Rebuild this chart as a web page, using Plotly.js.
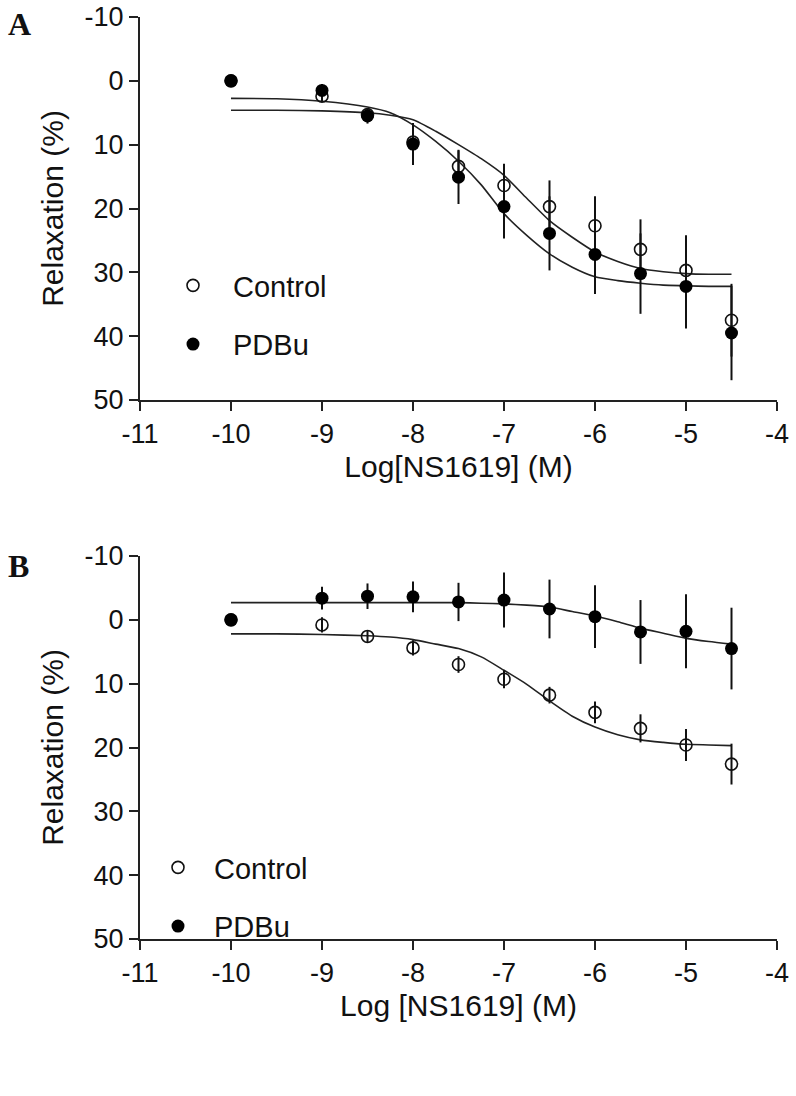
<!DOCTYPE html>
<html>
<head>
<meta charset="utf-8">
<script src="https://cdn.plot.ly/plotly-3.0.1.min.js"></script>
<style>
  body { margin: 0; background: #fff; }
  #chart { width: 796px; height: 1096px; }
</style>
</head>
<body>
<div id="chart"></div>
<script>
// doses (log M) where the points were measured
const doses = [-10, -9, -8.5, -8, -7.5, -7, -6.5, -6, -5.5, -5, -4.5];

// panel A
const controlA = [0, 2.4, 5.3, 9.6, 13.4, 16.4, 19.7, 22.7, 26.4, 29.7, 37.5];
const controlAErr = [0, 0.8, 1.0, 2.5, 2.6, 3.4, 4.1, 4.6, 4.7, 5.5, 5.7];
const pdbuA = [0, 1.5, 5.5, 9.9, 15.1, 19.7, 23.9, 27.2, 30.2, 32.2, 39.5];
const pdbuAErr = [0, 1.0, 1.2, 3.3, 4.2, 5.0, 5.8, 6.2, 6.3, 6.6, 7.4];

// panel B
const controlB = [0, 0.8, 2.6, 4.4, 7.0, 9.3, 11.8, 14.5, 17.0, 19.6, 22.6];
const controlBErr = [0, 1.2, 1.0, 1.2, 1.3, 1.4, 1.3, 1.7, 2.2, 2.5, 3.2];
const pdbuB = [0, -3.4, -3.7, -3.6, -2.8, -3.1, -1.7, -0.5, 1.9, 1.8, 4.5];
const pdbuBErr = [0, 1.8, 2.0, 2.4, 3.0, 4.3, 4.6, 4.9, 5.0, 5.8, 6.4];

// fitted curves
const fitX = [-10, -9.5, -9, -8.5, -8.25, -8, -7.75, -7.5, -7.25, -7, -6.75, -6.5, -6.25, -6, -5.75, -5.5, -5.25, -5, -4.75, -4.5];
const controlFitA = [4.6, 4.6, 4.7, 5.0, 5.4, 6.1, 7.9, 10.0, 12.2, 14.8, 18.4, 21.9, 24.5, 26.8, 28.3, 29.4, 29.9, 30.2, 30.3, 30.3];
const pdbuFitA = [2.75, 2.8, 3.2, 4.1, 5.0, 6.9, 9.5, 12.6, 16.3, 20.8, 24.2, 27.1, 29.2, 30.7, 31.3, 31.7, 32.0, 32.1, 32.2, 32.2];
const controlFitB = [2.2, 2.2, 2.3, 2.5, 2.7, 3.1, 3.8, 4.5, 5.8, 7.9, 10.1, 12.7, 15.1, 16.8, 18.0, 18.8, 19.2, 19.5, 19.6, 19.7];
const pdbuFitB = [-2.7, -2.7, -2.7, -2.7, -2.7, -2.7, -2.7, -2.7, -2.6, -2.5, -2.3, -2.0, -1.3, -0.6, 0.3, 1.3, 2.1, 2.9, 3.4, 3.8];

const xTicks = [-11, -10, -9, -8, -7, -6, -5, -4];
const xTickLabels = ['-11', '-10', '-9', '-8', '-7', '-6', '-5', '-4'];
const yTicks = [-10, 0, 10, 20, 30, 40, 50];
const yTickLabels = ['-10', '0', '10', '20', '30', '40', '50'];

const FONT = 'Liberation Sans, Arial, sans-serif';

function points(y, err, name, filled, xa, ya, legend) {
    return {
        x: doses, y: y, xaxis: xa, yaxis: ya,
        type: 'scatter', mode: 'markers', name: name,
        legend: legend, legendgroup: name + legend,
        error_y: { type: 'data', array: err, visible: true, color: '#111', thickness: 2, width: 0 },
        marker: filled
            ? { symbol: 'circle', size: 13, color: '#000' }
            : { symbol: 'circle-open', size: 12, color: '#111', line: { width: 1.6 } }
    };
}

function fit(y, xa, ya) {
    return {
        x: fitX, y: y, xaxis: xa, yaxis: ya,
        type: 'scatter', mode: 'lines', showlegend: false, hoverinfo: 'skip',
        line: { color: '#222', width: 1.6, shape: 'spline', smoothing: 0.6 }
    };
}

let data = [
    fit(controlFitA, 'x', 'y'),
    fit(pdbuFitA, 'x', 'y'),
    points(controlA, controlAErr, 'Control', false, 'x', 'y', 'legend'),
    points(pdbuA, pdbuAErr, 'PDBu', true, 'x', 'y', 'legend'),
    fit(controlFitB, 'x2', 'y2'),
    fit(pdbuFitB, 'x2', 'y2'),
    points(controlB, controlBErr, 'Control', false, 'x2', 'y2', 'legend2'),
    points(pdbuB, pdbuBErr, 'PDBu', true, 'x2', 'y2', 'legend2')
];

function xAxis(title, anchor) {
    return {
        domain: [140 / 796, 777 / 796], anchor: anchor,
        range: [-11, -4], tickvals: xTicks, ticktext: xTickLabels,
        showgrid: false, zeroline: false, showline: true, linecolor: '#222', linewidth: 2,
        ticks: 'outside', ticklen: 9, tickwidth: 2, tickcolor: '#222',
        tickfont: { family: FONT, size: 27, color: '#111' },
        title: { text: title, font: { family: FONT, size: 30, color: '#111' }, standoff: 8 },
        automargin: false
    };
}

function yAxis(top, bottom, anchor) {
    return {
        domain: [1 - bottom / 1096, 1 - top / 1096], anchor: anchor,
        range: [50, -10], tickvals: yTicks, ticktext: yTickLabels,
        showgrid: false, zeroline: false, showline: true, linecolor: '#222', linewidth: 2,
        ticks: 'outside', ticklen: 9, tickwidth: 2, tickcolor: '#222',
        tickfont: { family: FONT, size: 27, color: '#111' },
        title: { text: 'Relaxation (%)', font: { family: FONT, size: 30, color: '#111' }, standoff: 12 },
        automargin: false
    };
}

function legendBox(x, y, itemwidth) {
    return {
        x: x, y: y, xanchor: 'left', yanchor: 'top',
        bgcolor: 'rgba(0,0,0,0)', borderwidth: 0,
        font: { family: FONT, size: 29, color: '#111' },
        tracegroupgap: 18, itemwidth: itemwidth
    };
}

let layout = {
    width: 796, height: 1096,
    margin: { l: 0, r: 0, t: 0, b: 0 },
    paper_bgcolor: '#fff', plot_bgcolor: '#fff',
    showlegend: true,
    xaxis: xAxis('Log[NS1619] (M)', 'y'),
    yaxis: yAxis(17, 400, 'x'),
    xaxis2: xAxis('Log [NS1619] (M)', 'y2'),
    yaxis2: yAxis(556, 939, 'x2'),
    legend: legendBox(153 / 796, 1 - 260 / 1096, 70),
    legend2: legendBox(142 / 796, 1 - 842 / 1096, 62),
    annotations: [
        { text: '<b>A</b>', xref: 'paper', yref: 'paper', x: 6 / 796, y: 1 - 4 / 1096,
          xanchor: 'left', yanchor: 'top', showarrow: false,
          font: { family: 'Liberation Serif, Times New Roman, serif', size: 32, color: '#111' } },
        { text: '<b>B</b>', xref: 'paper', yref: 'paper', x: 6 / 796, y: 1 - 546 / 1096,
          xanchor: 'left', yanchor: 'top', showarrow: false,
          font: { family: 'Liberation Serif, Times New Roman, serif', size: 32, color: '#111' } }
    ]
};

Plotly.newPlot('chart', data, layout, { staticPlot: true });
</script>
</body>
</html>
